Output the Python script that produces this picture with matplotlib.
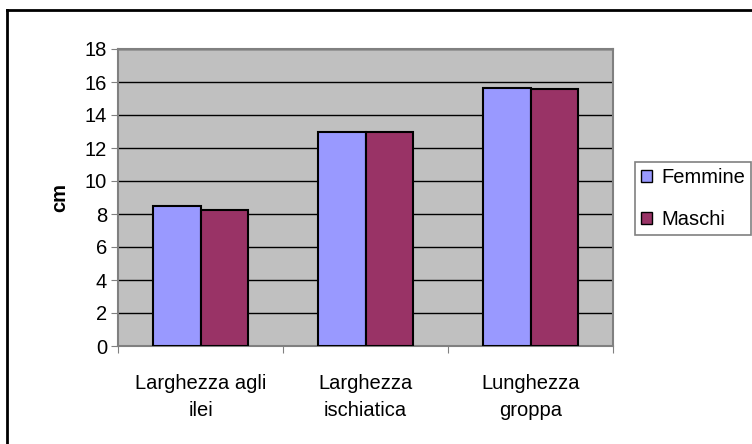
import numpy as np
import matplotlib.pyplot as plt
from matplotlib.lines import Line2D
from matplotlib.patches import Patch

plt.rcParams['font.family'] = ['Liberation Sans', 'DejaVu Sans']

categories = ['Larghezza agli\nilei', 'Larghezza\nischiatica', 'Lunghezza\ngroppa']
femmine = [8.5, 12.95, 15.65]
maschi = [8.25, 12.95, 15.55]
series_names = ['Femmine', 'Maschi']
colors = ['#9999FF', '#993366']

fs = 14.5

fig = plt.figure(figsize=(7.52, 4.44), dpi=100)
ax = fig.add_axes([118 / 752, 98 / 444, 495 / 752, 297 / 444])
ax.set_facecolor('#C0C0C0')

x = np.arange(len(categories))
w = 0.29
ax.bar(x - w / 2, femmine, w, color=colors[0], edgecolor='black', linewidth=1.5, zorder=3)
ax.bar(x + w / 2, maschi, w, color=colors[1], edgecolor='black', linewidth=1.5, zorder=3)

ax.set_xlim(-0.5, 2.5)
ax.set_ylim(0, 18)
ax.set_yticks(np.arange(0, 19, 2))
ax.yaxis.grid(True, color='black', linewidth=1, zorder=1)
ax.set_axisbelow(True)

ax.set_xticks([-0.5, 0.5, 1.5, 2.5])
ax.set_xticklabels([])
ax.set_xticks(x, minor=True)
ax.set_xticklabels(categories, minor=True, fontsize=fs, linespacing=1.55)
ax.tick_params(axis='x', which='minor', length=0, pad=20)
ax.tick_params(axis='x', which='major', length=5, color='#808080')
ax.tick_params(axis='y', length=5, color='#808080', labelsize=fs, pad=3)

for s in ax.spines.values():
    s.set_color('#808080')
    s.set_linewidth(1.5)

ax.set_ylabel('cm', fontsize=fs, fontweight='bold', labelpad=11)

handles = [Patch(facecolor=c, edgecolor='black', label=n) for c, n in zip(colors, series_names)]
leg = fig.legend(handles=handles, loc='lower left', bbox_to_anchor=(635 / 752, 209 / 444),
                 fontsize=fs, frameon=True, fancybox=False, handlelength=0.55, handleheight=0.55,
                 handletextpad=0.45, borderpad=0.3, labelspacing=1.15, borderaxespad=0)
leg.get_frame().set_edgecolor('#606060')
leg.get_frame().set_linewidth(1.2)

fig.add_artist(Line2D([7 / 752, 1], [434 / 444, 434 / 444], color='black', linewidth=2, transform=fig.transFigure))
fig.add_artist(Line2D([7 / 752, 7 / 752], [0, 434 / 444], color='black', linewidth=2, transform=fig.transFigure))

fig.savefig('out.png', dpi=100)
